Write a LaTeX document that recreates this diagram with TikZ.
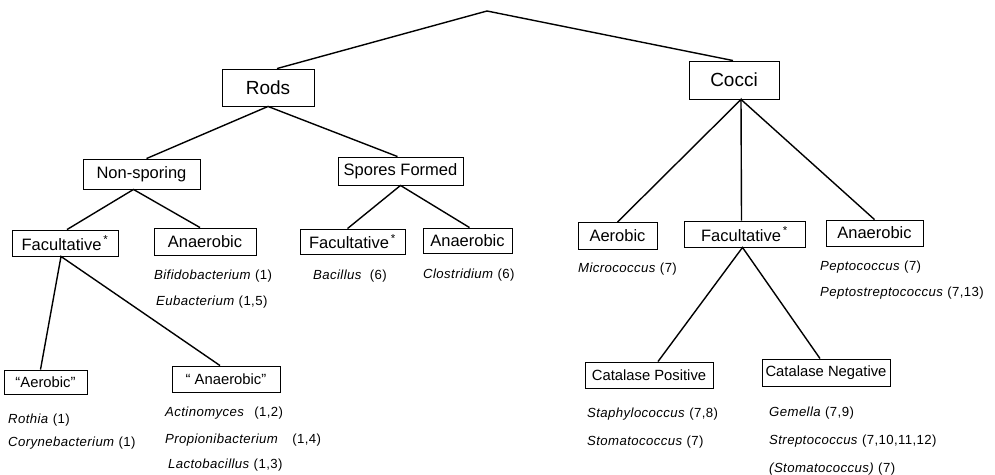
\documentclass[tikz,border=0pt]{standalone}
\usepackage{fontspec}
\setmainfont{Liberation Sans}
\newcommand\spfont{\fontsize{13.2}{15}\selectfont\addfontfeature{LetterSpace=3}}
\newcommand\facast{\textsuperscript{\,*}}
\begin{document}
\begin{tikzpicture}[x=1pt,y=-1pt,
  box/.style={draw,line width=0.9pt,inner sep=0pt,align=center},
  big/.style={box,font=\fontsize{19}{22}\selectfont},
  mid/.style={box,font=\fontsize{16.5}{20}\selectfont},
  small/.style={box,font=\fontsize{14.8}{18}\selectfont},
  sp/.style={anchor=west,inner sep=0pt,font=\spfont},
  edge/.style={line width=1.4pt}]
\useasboundingbox (0,0) rectangle (995,474);
\coordinate (root) at (487,11);
\node[big,minimum width=92,minimum height=37] (rods) at (268,87.5) {Rods};
\node[big,minimum width=90,minimum height=38] (cocci) at (734,80) {Cocci};
\node[mid,minimum width=117,minimum height=30] (nonsp) at (141.5,174) {Non-sporing};
\node[mid,minimum width=125,minimum height=28] (spores) at (400.5,171) {Spores Formed};
\node[mid,minimum width=106,minimum height=26] (facR) at (65,243) {Facultative\facast};
\node[mid,minimum width=102,minimum height=27] (anaR) at (205,241.5) {Anaerobic};
\node[mid,minimum width=105,minimum height=25] (facS) at (352.5,241.5) {Facultative\facast};
\node[mid,minimum width=89,minimum height=25] (anaS) at (467.5,240.5) {Anaerobic};
\node[mid,minimum width=79,minimum height=27] (aerC) at (617.5,236) {Aerobic};
\node[mid,minimum width=121,minimum height=26] (facC) at (744.5,234) {Facultative\facast};
\node[mid,minimum width=97,minimum height=26] (anaC) at (874.5,233) {Anaerobic};
\node[small,minimum width=83,minimum height=24] (aerR) at (45.5,382) {“Aerobic”};
\node[small,minimum width=108,minimum height=26] (anaQ) at (226,379) {“ Anaerobic”};
\node[small,minimum width=128,minimum height=26] (catP) at (649,375) {Catalase Positive};
\node[small,minimum width=128,minimum height=27] (catN) at (826,372.5) {Catalase Negative};

\draw[edge] ([xshift=9]rods.north) -- (root) -- ([xshift=-1]cocci.north);
\draw[edge] ([xshift=5]nonsp.north) -- (rods.south) -- ([xshift=-3]spores.north);
\draw[edge] ([xshift=2]facR.north) -- ([xshift=-8]nonsp.south) -- ([xshift=-5]anaR.north);
\draw[edge] ([xshift=-5]facS.north) -- (spores.south) -- ([xshift=2]anaS.north);
\draw[edge] (aerC.north) -- ([xshift=7]cocci.south) -- ([xshift=-3]facC.north);
\draw[edge] ([xshift=7]cocci.south) -- (anaC.north);
\draw[edge] ([xshift=9]catP.north) -- ([xshift=-2]facC.south) -- ([xshift=-6]catN.north);
\draw[edge] ([xshift=-5]aerR.north) -- ([xshift=-4]facR.south) -- ([xshift=-6]anaQ.north);

\node[sp] (t1) at (154,276) {\textit{Bifidobacterium} (1)};
\node[sp] (t2) at (156,302) {\textit{Eubacterium} (1,5)};
\node[sp] (t3) at (313,276) {\textit{Bacillus}\hspace{8pt}(6)};
\node[sp] (t4) at (423,275) {\textit{Clostridium} (6)};
\node[sp] (t5) at (578,269) {\textit{Micrococcus} (7)};
\node[sp] (t6) at (820,267) {\textit{Peptococcus} (7)};
\node[sp] (t7) at (820,293) {\textit{Peptostreptococcus} (7,13)};
\node[sp] (t8) at (8,420) {\textit{Rothia} (1)};
\node[sp] (t9) at (8,443) {\textit{Corynebacterium} (1)};
\node[sp] (t10) at (165,413) {\textit{Actinomyces}\hspace{10pt}(1,2)};
\node[sp] (t11) at (165,440) {\textit{Propionibacterium}\hspace{14pt}(1,4)};
\node[sp] (t12) at (168,465) {\textit{Lactobacillus} (1,3)};
\node[sp] (t13) at (587,414) {\textit{Staphylococcus} (7,8)};
\node[sp] (t14) at (587,442) {\textit{Stomatococcus} (7)};
\node[sp] (t15) at (769,413) {\textit{Gemella} (7,9)};
\node[sp] (t16) at (769,441) {\textit{Streptococcus} (7,10,11,12)};
\node[sp] (t17) at (769,469) {\textit{(Stomatococcus)} (7)};
\end{tikzpicture}
\end{document}
